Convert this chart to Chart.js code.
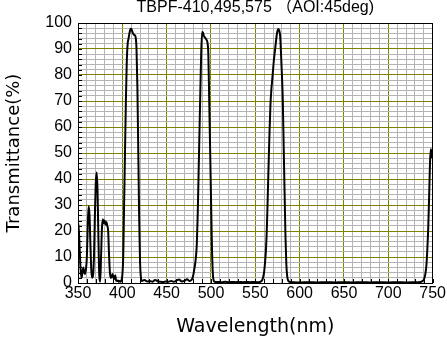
<!DOCTYPE html>
<html>
<head>
<meta charset="utf-8">
<script src="https://cdn.jsdelivr.net/npm/chart.js@4/dist/chart.umd.min.js"></script>
<style>
  html, body { margin: 0; padding: 0; background: #fff; }
  canvas { display: block; }
</style>
</head>
<body>
<canvas id="c" width="447" height="339"></canvas>
<script>
// Measured transmittance curve of the triple band-pass filter (AOI 45deg)
const wavelength = [
  350,351,352,353,354,355,356,357,358,359,360,361,362,363,364,365,366,367,368,369,
  370,371,372,373,374,375,376,377,378,379,380,381,382,383,384,385,386,387,388,389,
  390,391,392,393,394,395,396,397,398,399,400,401,402,403,404,405,406,407,408,409,
  410,411,412,413,414,415,416,417,418,419,420,421,422,
  425,428,431,434,437,440,443,446,449,452,455,458,461,464,467,470,473,476,478,
  479,480,481,482,483,484,485,486,487,488,489,490,491,492,493,494,495,496,497,498,
  499,500,501,502,503,504,
  508,512,516,520,524,528,532,536,540,544,548,552,555,
  556,557,558,559,560,561,562,563,564,565,566,567,568,569,570,571,572,573,574,575,
  576,577,578,579,580,581,582,583,584,585,586,587,588,
  592,600,610,620,630,640,650,660,670,680,690,700,710,720,730,736,
  738,739,740,741,742,743,744,745,746,747,748,749
];
const transmittance = [
  23.5,20,12,5,2,4,6,4,3.5,5.5,10,22,29.5,26,15,5,2,3,10,25,
  38,42.5,36,18,3,0.5,10,21,24.5,23,24,22.5,23.5,22,20,11,4,2,2.5,3.5,
  2,1.5,3,1,0.8,1,0.5,0.8,0.5,1,3,10,30,50,70,85,92,94,96,97.5,
  97.8,97,96,95.5,95.3,94.5,90,75,50,25,8,2,0.8,
  1.2,0.6,0.8,0.5,1.2,0.7,0.5,0.4,0.6,0.5,0.8,0.5,0.9,1.3,0.6,0.8,1.4,0.8,1.2,
  1.8,3,5,7,10,15,26,42,58,74,89,96.5,96.3,95,94.5,94,93.5,92.5,88,70,
  52,33,15,4,1,0.5,
  0.4,0.3,0.5,0.3,0.4,0.3,0.4,0.3,0.4,0.3,0.4,0.3,0.4,
  0.5,0.8,1.3,2.5,4.5,8,13,21,33,46,58,68,74,78,82,86,89,92,95,97,
  97.7,97,95,88,80,70,52,35,18,7,2.5,1,0.5,
  0.3,0.2,0.3,0.2,0.3,0.2,0.3,0.2,0.3,0.2,0.3,0.2,0.3,0.2,0.3,0.4,
  0.6,0.9,1.3,2.2,4,7,13,21,33,46,51.5,48
];

// Axis ranges and labelled tick values
const xRange = [350, 750];
const yRange = [0, 100];
const xLabelTicks = [350, 400, 450, 500, 550, 600, 650, 700, 750];
const yLabelTicks = [0, 10, 20, 30, 40, 50, 60, 70, 80, 90, 100];

const MINOR = '#b4b4b4';
const MAJOR = '#808000';
const FONT = "'Liberation Sans', Arial, 'Noto Sans CJK JP', sans-serif";
const TITLE_FONT = "'DejaVu Sans', sans-serif";

const points = wavelength.map((w, i) => ({ x: w, y: transmittance[i] }));

const isMultiple = (v, m) => Math.abs(Math.round(v) % m) === 0;

// Inward tick marks on the bottom and left edges, plus the plot frame
const framePlugin = {
  id: 'frame',
  afterDatasetsDraw(chart) {
    const { ctx, chartArea: a, scales: { x, y } } = chart;
    ctx.save();
    ctx.strokeStyle = '#000';
    ctx.lineWidth = 1;
    ctx.beginPath();
    x.ticks.forEach(t => {
      const px = Math.round(x.getPixelForValue(t.value)) + 0.5;
      ctx.moveTo(px, a.bottom);
      ctx.lineTo(px, a.bottom - 4);
    });
    y.ticks.forEach(t => {
      const py = Math.round(y.getPixelForValue(t.value)) + 0.5;
      ctx.moveTo(a.left, py);
      ctx.lineTo(a.left + 4, py);
    });
    ctx.stroke();
    ctx.strokeRect(Math.round(a.left) + 0.5, Math.round(a.top) + 0.5,
                   Math.round(a.right - a.left) - 1, Math.round(a.bottom - a.top));
    ctx.restore();
  }
};

new Chart(document.getElementById('c'), {
  type: 'line',
  data: {
    datasets: [{
      data: points,
      borderColor: '#000',
      borderWidth: 2,
      pointRadius: 0,
      fill: false,
      cubicInterpolationMode: 'monotone'
    }]
  },
  options: {
    responsive: false,
    animation: false,
    events: [],
    layout: { padding: { left: 0, right: 14, top: 0, bottom: 0 } },
    plugins: {
      legend: { display: false },
      tooltip: { enabled: false },
      title: {
        display: true,
        text: 'TBPF-410,495,575 （AOI:45deg)',
        color: '#000',
        fullSize: false,
        font: { family: FONT, size: 16, weight: 'normal', lineHeight: 1 },
        padding: { top: 0, bottom: 7 }
      }
    },
    scales: {
      x: {
        type: 'linear',
        min: xRange[0],
        max: xRange[1],
        afterFit(s) { s.height = 56; },
        border: { display: false },
        grid: {
          drawTicks: false,
          color: c => (c.tick && isMultiple(c.tick.value, 50)) ? MAJOR : MINOR,
          lineWidth: 1
        },
        ticks: {
          stepSize: 10,
          autoSkip: false,
          maxRotation: 0,
          minRotation: 0,
          padding: 1,
          color: '#000',
          font: { family: FONT, size: 16 },
          callback: v => xLabelTicks.includes(v) ? String(v) : ''
        },
        title: {
          display: true,
          text: 'Wavelength(nm)',
          color: '#000',
          font: { family: TITLE_FONT, size: 19, lineHeight: 1 },
          padding: { top: 0, bottom: 2 }
        }
      },
      y: {
        min: yRange[0],
        max: yRange[1],
        afterFit(s) { s.width = 78; },
        border: { display: false },
        grid: {
          drawTicks: false,
          color: c => (c.tick && isMultiple(c.tick.value, 10)) ? MAJOR : MINOR,
          lineWidth: 1
        },
        ticks: {
          stepSize: 2,
          autoSkip: false,
          padding: 6,
          color: '#000',
          font: { family: FONT, size: 16 },
          callback: v => yLabelTicks.includes(v) ? String(v) : ''
        },
        title: {
          display: true,
          text: 'Transmittance(%)',
          color: '#000',
          font: { family: TITLE_FONT, size: 18, lineHeight: 1 },
          padding: { top: 5, bottom: 0 }
        }
      }
    }
  },
  plugins: [framePlugin]
});
</script>
</body>
</html>
